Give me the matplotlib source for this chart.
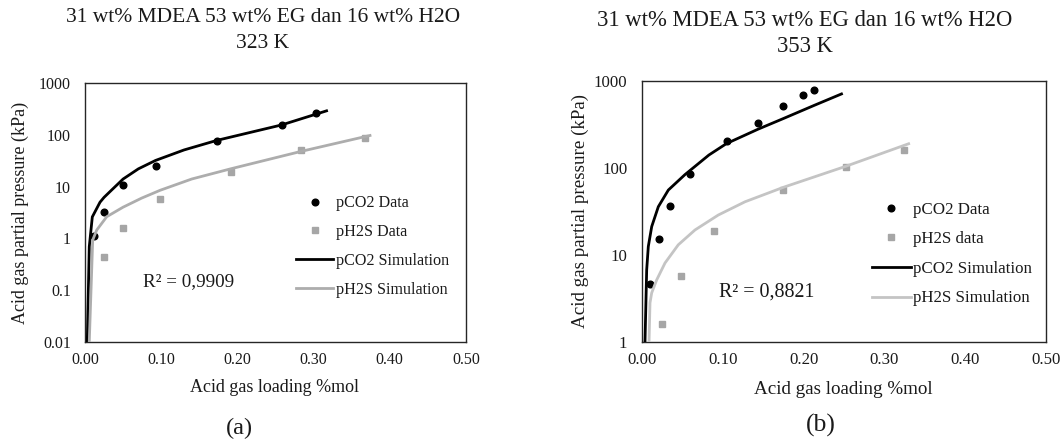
import matplotlib
matplotlib.use('Agg')  # no display available
import matplotlib.pyplot as plt
from matplotlib.ticker import FixedLocator, FuncFormatter

W, H = 1064, 441

# --- 323 K: measured points ---
co2_323_x = [0.012, 0.0245, 0.050, 0.0926, 0.173, 0.258, 0.303]
co2_323_y = [1.1, 3.2, 10.7, 25, 77, 152, 264]
h2s_323_x = [0.0245, 0.050, 0.0987, 0.191, 0.284, 0.367]
h2s_323_y = [0.43, 1.6, 5.8, 19.4, 50, 88]

# --- 323 K: simulation curves ---
sim_co2_323_x = [0.003, 0.0056, 0.0096, 0.0197, 0.025, 0.035, 0.05, 0.07, 0.0926,
                 0.13, 0.173, 0.258, 0.317]
sim_co2_323_y = [0.01, 0.69, 2.6, 5.0, 6.2, 8.6, 14, 22, 32, 51, 78, 155, 290]
sim_h2s_323_x = [0.0056, 0.0101, 0.0154, 0.0285, 0.0499, 0.0744, 0.0987, 0.14,
                 0.191, 0.284, 0.374]
sim_h2s_323_y = [0.01, 0.93, 1.45, 2.62, 4.0, 6.0, 8.5, 14, 22, 48, 97]

# --- 353 K: measured points ---
co2_353_x = [0.010, 0.0205, 0.0347, 0.0598, 0.1046, 0.1435, 0.1749, 0.1996, 0.2134]
co2_353_y = [4.67, 15.3, 36.6, 84.4, 207, 333, 521, 685, 788]
h2s_353_x = [0.0251, 0.0485, 0.0895, 0.1749, 0.2527, 0.3243]
h2s_353_y = [1.62, 5.71, 18.9, 55.3, 103, 163]

# --- 353 K: simulation curves ---
sim_co2_353_x = [0.0037, 0.0058, 0.0078, 0.012, 0.0202, 0.0326, 0.0532, 0.0828,
                 0.1046, 0.1435, 0.1749, 0.2134, 0.2469]
sim_co2_353_y = [1, 6.75, 12.5, 21.2, 35.9, 55.8, 84, 141, 191, 279, 370, 526, 710]
sim_h2s_353_x = [0.0087, 0.0099, 0.012, 0.0182, 0.0285, 0.0449, 0.0656, 0.0944,
                 0.1275, 0.175, 0.2527, 0.33]
sim_h2s_353_y = [1, 2.82, 3.67, 5.18, 8.1, 13.1, 19.4, 28.8, 40.9, 60, 105, 190]

x_ticks = [0.0, 0.1, 0.2, 0.3, 0.4, 0.5]
title_text = '31 wt% MDEA 53 wt% EG dan 16 wt% H2O'

plt.rcParams['font.family'] = ['Liberation Serif', 'DejaVu Serif']

fig = plt.figure(figsize=(W / 100, H / 100), dpi=100)


def px(x, y):
    """Pixel position (from top-left) to figure fraction."""
    return x / W, 1 - y / H


def draw_panel(box, ylim, co2, h2s, sim_co2, sim_h2s, labels, grey_line,
               r2, r2_pos, leg_xy, temp, title_pos, xlabel_pos, ylabel_pos,
               letter, letter_pos, s):
    x0, y0, x1, y1 = box
    ax = fig.add_axes([x0 / W, 1 - y1 / H, (x1 - x0) / W, (y1 - y0) / H])
    ax.set_yscale('log')

    ax.plot(co2[0], co2[1], 'o', color='black', markersize=4.8, zorder=2)
    ax.plot(h2s[0], h2s[1], 's', color='#A6A6A6', markersize=3.9, zorder=2)
    ax.plot(sim_co2[0], sim_co2[1], '-', color='black', linewidth=2.0, zorder=3)
    ax.plot(sim_h2s[0], sim_h2s[1], '-', color=grey_line, linewidth=2.0, zorder=3)

    ax.set_xlim(0, 0.5)
    ax.set_ylim(*ylim)
    ax.xaxis.set_major_locator(FixedLocator(x_ticks))
    ax.xaxis.set_major_formatter(FuncFormatter(lambda v, p: f'{v:.2f}'))
    yt = [10 ** k for k in range(-2, 4) if ylim[0] <= 10 ** k <= ylim[1]]
    ax.yaxis.set_major_locator(FixedLocator(yt))
    ax.yaxis.set_major_formatter(FuncFormatter(lambda v, p: f'{v:g}'))
    ax.yaxis.set_minor_locator(FixedLocator([]))
    ax.tick_params(axis='both', length=0, labelsize=11.5 * s, colors='#1a1a1a')
    ax.tick_params(axis='y', pad=10 * s)
    ax.tick_params(axis='x', pad=7 * s)
    for sp in ax.spines.values():
        sp.set_color('#262626')
        sp.set_linewidth(1.0)

    leg = ax.legend(labels, loc='upper left', bbox_to_anchor=leg_xy,
                    frameon=False, fontsize=11.6 * s, numpoints=1,
                    handlelength=2.3, handletextpad=0.15, labelspacing=0.8,
                    borderpad=0, borderaxespad=0)
    for t in leg.get_texts():
        t.set_color('#1a1a1a')

    fig.text(*px(*r2_pos), r2, fontsize=13.7 * s, ha='left', va='center',
             color='#1a1a1a')
    fig.text(*px(title_pos[0], title_pos[1]), title_text, fontsize=15.5 * s,
             ha='center', va='center', color='#1a1a1a')
    fig.text(*px(title_pos[0], title_pos[1] + 25 * s), temp, fontsize=15.5 * s,
             ha='center', va='center', color='#1a1a1a')
    fig.text(*px(*xlabel_pos), 'Acid gas loading %mol', fontsize=13 * s,
             ha='center', va='center', color='#1a1a1a')
    fig.text(*px(*ylabel_pos), 'Acid gas partial pressure (kPa)', fontsize=13 * s,
             rotation=90, ha='center', va='center', color='#1a1a1a')
    fig.text(*px(*letter_pos), letter, fontsize=17.5 * s, ha='center',
             va='center', color='#1a1a1a')
    return ax


# (a) 323 K
draw_panel((85, 83, 466, 342), (0.01, 1000),
           (co2_323_x, co2_323_y), (h2s_323_x, h2s_323_y),
           (sim_co2_323_x, sim_co2_323_y), (sim_h2s_323_x, sim_h2s_323_y),
           ['pCO2 Data', 'pH2S Data', 'pCO2 Simulation', 'pH2S Simulation'],
           '#ADADAD', 'R\u00b2 = 0,9909', (143, 282), (0.554, 0.567), '323 K',
           (263, 18), (275, 388), (20, 213), '(a)', (239, 428), 1.0)

# (b) 353 K
draw_panel((642, 81, 1046, 342), (1, 1000),
           (co2_353_x, co2_353_y), (h2s_353_x, h2s_353_y),
           (sim_co2_353_x, sim_co2_353_y), (sim_h2s_353_x, sim_h2s_353_y),
           ['pCO2 Data', 'pH2S data', 'pCO2 Simulation', 'pH2S Simulation'],
           '#C4C4C4', 'R\u00b2 = 0,8821', (719, 292), (0.569, 0.537), '353 K',
           (805, 20), (843, 390), (580, 211), '(b)', (821, 425), 1.05)

fig.savefig('out.png', dpi=100, facecolor='white')
